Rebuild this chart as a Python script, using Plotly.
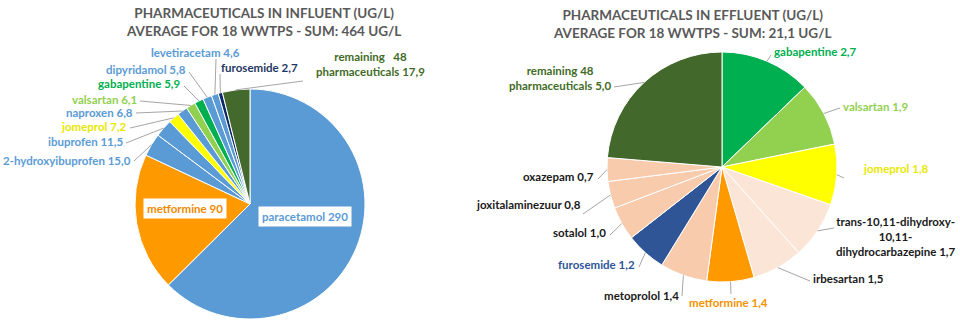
import math
import plotly.graph_objects as go

# ---------------- data ----------------
inf_labels = ["paracetamol", "metformine", "2-hydroxyibuprofen", "ibuprofen", "jomeprol",
              "naproxen", "valsartan", "gabapentine", "dipyridamol", "levetiracetam",
              "furosemide", "remaining 48 pharmaceuticals"]
inf_values = [290, 90, 15.0, 11.5, 7.2, 6.8, 6.1, 5.9, 5.8, 4.6, 2.7, 17.9]
inf_value_text = ["290", "90", "15,0", "11,5", "7,2", "6,8", "6,1", "5,9", "5,8", "4,6", "2,7", "17,9"]
inf_colors = ["#5B9BD5", "#FF9900", "#5B9BD5", "#5B9BD5", "#FFFF00", "#5B9BD5", "#92D050",
              "#00B050", "#5B9BD5", "#5B9BD5", "#0B2A6B", "#44692C"]
inf_text_colors = ["#5B9BD5", "#F08A00", "#5B9BD5", "#5B9BD5", "#E8E800", "#5B9BD5", "#92D050",
                   "#00B050", "#5B9BD5", "#5B9BD5", "#1F3864", "#3F6B26"]

eff_labels = ["gabapentine", "valsartan", "jomeprol", "trans-10,11-dihydroxy-10,11-dihydrocarbazepine",
              "irbesartan", "metformine", "metoprolol", "furosemide", "sotalol",
              "joxitalaminezuur", "oxazepam", "remaining 48 pharmaceuticals"]
eff_values = [2.7, 1.9, 1.8, 1.7, 1.5, 1.4, 1.4, 1.2, 1.0, 0.8, 0.7, 5.0]
eff_value_text = ["2,7", "1,9", "1,8", "1,7", "1,5", "1,4", "1,4", "1,2", "1,0", "0,8", "0,7", "5,0"]
eff_colors = ["#00B050", "#92D050", "#FFFF00", "#FBE5D6", "#FBE5D6", "#FF9900", "#F8CBAD",
              "#2F5597", "#F8CBAD", "#F8CBAD", "#F8CBAD", "#43682B"]
eff_text_colors = ["#00B050", "#92D050", "#E8E800", "#1A1A1A", "#1A1A1A", "#F39200", "#1A1A1A",
                   "#2F5597", "#1A1A1A", "#1A1A1A", "#1A1A1A", "#3F6B26"]

inf_title = "PHARMACEUTICALS IN INFLUENT (UG/L)<br>AVERAGE FOR 18 WWTPS - SUM: 464 UG/L"
eff_title = "PHARMACEUTICALS IN EFFLUENT (UG/L)<br>AVERAGE FOR 18 WWTPS - SUM: 21,1 UG/L"

# ---------------- layout constants (pixels) ----------------
W, H = 960, 329
FONT = "Lato"
LINE_COLOR = "#A6A6A6"

INF_C = (250, 204); INF_R = 115
EFF_C = (722, 167); EFF_R = 115

# label display: (text lines, x, y, xanchor, line-anchor point or None, boxed)
inf_label_layout = [
    (["paracetamol"], 305, 217, "center", None, True),
    (["metformine"], 185, 209, "center", None, True),
    (["2-hydroxyibuprofen"], 132, 160, "right", (134, 161), False),
    (["ibuprofen"], 124, 141, "right", (126, 143), False),
    (["jomeprol"], 128, 126, "right", (130, 128), False),
    (["naproxen"], 134, 112, "right", (136, 113), False),
    (["valsartan"], 138, 99, "right", (140, 101), False),
    (["gabapentine"], 182, 83, "right", (184, 86), False),
    (["dipyridamol"], 187, 69, "right", (189, 72), False),
    (["levetiracetam"], 241, 52, "right", (216, 59), False),
    (["furosemide"], 220, 67, "left", (220, 74), False),
    (["remaining &nbsp;&nbsp;48", "pharmaceuticals"], 370, 64, "center", (303, 81), False),
]
eff_label_layout = [
    (["gabapentine"], 773, 51, "left", (771, 55), False),
    (["valsartan"], 842, 106, "left", (840, 108), False),
    (["jomeprol"], 862, 168, "left", (844, 178), False),
    (["trans-10,11-dihydroxy-", "10,11-", "dihydrocarbazepine"], 896, 236, "center", (834, 228), False),
    (["irbesartan"], 812, 278, "left", (810, 281), False),
    (["metformine"], 728, 302, "center", (731, 294), False),
    (["metoprolol"], 680, 295, "right", (682, 296), False),
    (["furosemide"], 636, 264, "right", (639, 267), False),
    (["sotalol"], 607, 232, "right", (610, 235), False),
    (["joxitalaminezuur"], 582, 205, "right", (583, 214), False),
    (["oxazepam"], 595, 176, "right", (598, 179), False),
    (["remaining 48", "pharmaceuticals"], 560, 78, "center", (614, 87), False),
]


def px(x):
    return x / W


def py(y):
    return 1 - y / H


def domain(center, r):
    cx, cy = center
    return dict(x=[px(cx - r), px(cx + r)], y=[py(cy + r), py(cy - r)])


fig = go.Figure()
for values, labels, colors, c, r in [
    (inf_values, inf_labels, inf_colors, INF_C, INF_R),
    (eff_values, eff_labels, eff_colors, EFF_C, EFF_R),
]:
    fig.add_trace(go.Pie(
        values=values, labels=labels, sort=False, direction="clockwise", rotation=0,
        marker=dict(colors=colors, line=dict(color="white", width=1)),
        textinfo="none", hoverinfo="label+value", showlegend=False,
        domain=domain(c, r),
    ))

annotations = []
shapes = []


def add_labels(values, vtexts, tcolors, layout_list, center, r):
    total = sum(values)
    cum = 0.0
    cx, cy = center
    for v, vt, tc, (lines, x, y, xa, anchor, boxed) in zip(values, vtexts, tcolors, layout_list):
        mid = (cum + v / 2) / total * 2 * math.pi
        cum += v
        text_lines = list(lines)
        text_lines[-1] = text_lines[-1] + " " + vt
        annotations.append(dict(
            text="<br>".join(text_lines), x=px(x), y=py(y), xref="paper", yref="paper",
            xanchor=xa, yanchor="middle", showarrow=False, align="center",
            font=dict(family=FONT, size=11.5, color=tc, weight="bold"),
            bgcolor="white" if boxed else None, borderpad=3 if boxed else 0,
        ))
        if anchor is not None:
            ex = cx + r * math.sin(mid)
            ey = cy - r * math.cos(mid)
            shapes.append(dict(type="line", xref="paper", yref="paper",
                               x0=px(anchor[0]), y0=py(anchor[1]), x1=px(ex), y1=py(ey),
                               line=dict(color=LINE_COLOR, width=1)))


add_labels(inf_values, inf_value_text, inf_text_colors, inf_label_layout, INF_C, INF_R)
add_labels(eff_values, eff_value_text, eff_text_colors, eff_label_layout, EFF_C, EFF_R)

for t, x, y in [(inf_title, 263, 22), (eff_title, 692, 24)]:
    annotations.append(dict(
        text=t, x=px(x), y=py(y), xref="paper", yref="paper", xanchor="center", yanchor="middle",
        showarrow=False, align="center",
        font=dict(family=FONT, size=13.5, color="#595959", weight="bold"),
    ))

fig.update_layout(
    width=W, height=H, margin=dict(l=0, r=0, t=0, b=0),
    paper_bgcolor="white", plot_bgcolor="white",
    annotations=annotations, shapes=shapes,
)

fig.write_html("out.html")
